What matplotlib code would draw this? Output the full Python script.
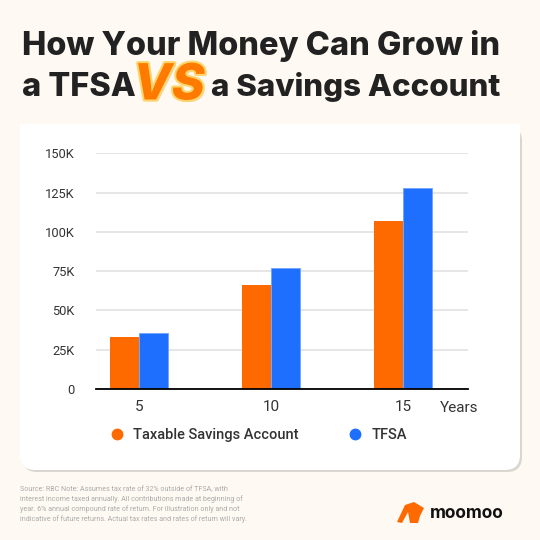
import matplotlib
matplotlib.use("Agg")
import matplotlib.pyplot as plt
import matplotlib.patheffects as pe
from matplotlib.lines import Line2D
from matplotlib.patches import FancyBboxPatch, Rectangle, Polygon
import numpy as np

# chart data (thousands of dollars)
years = ["5", "10", "15"]
taxable_savings = [33.2, 66.1, 106.6]
tfsa = [35.4, 76.7, 127.6]
y_ticks = [0, 25, 50, 75, 100, 125, 150]

series_names = ["Taxable Savings Account", "TFSA"]
ORANGE = "#FF6A00"
BLUE = "#1F6FFF"
BG = "#FEF9F2"
W, H = 540, 540


def fx(x):
    return x / W


def fy(y):
    return 1 - y / H


fig = plt.figure(figsize=(5.4, 5.4), dpi=100)
fig.patch.set_facecolor(BG)
renderer = fig.canvas.get_renderer()

# white card with shadow
shadow = FancyBboxPatch((fx(22), fy(472)), fx(500), fy(126) - fy(472),
                        boxstyle="round,pad=0,rounding_size=0.028",
                        transform=fig.transFigure, facecolor="#d9d6d0",
                        edgecolor="none", zorder=0)
card = FancyBboxPatch((fx(20), fy(470)), fx(500), fy(124) - fy(470),
                      boxstyle="round,pad=0,rounding_size=0.028",
                      transform=fig.transFigure, facecolor="white",
                      edgecolor="none", zorder=0.1)
top = Rectangle((fx(20), fy(300)), fx(500), fy(124) - fy(300),
                transform=fig.transFigure, facecolor="white",
                edgecolor="none", zorder=0.2)
fig.patches.extend([shadow, card, top])

# title
title_kw = dict(family="Inter", weight="heavy", color="#222222")
fig.text(fx(22), fy(46), "How Your Money Can Grow in", va="center", ha="left",
         fontsize=23.4, **title_kw)
fig.text(fx(22), fy(87), "a TFSA", va="center", ha="left", fontsize=23.4, **title_kw)
fig.text(fx(211), fy(87), "a Savings Account", va="center", ha="left",
         fontsize=22.6, **title_kw)
fig.text(fx(169), fy(86), "VS", va="center", ha="center", family="Inter",
         weight="heavy", style="italic", fontsize=36, color="#FF7A00",
         path_effects=[pe.SimplePatchShadow(offset=(1.5, -1.5), shadow_rgbFace="#e8dccb", alpha=1),
                       pe.withStroke(linewidth=3, foreground="#FFD66B")])

# bar chart
ax = fig.add_axes([fx(95.7), fy(389), fx(468.3 - 95.7), (389 - 153.3) / H])
ax.set_zorder(2)
ax.set_facecolor("none")
x = np.arange(len(years))
width = 0.22
ax.bar(x - width / 2, taxable_savings, width, color=ORANGE, zorder=3)
ax.bar(x + width / 2, tfsa, width, color=BLUE, edgecolor="#6fa3ff", linewidth=0.6, zorder=3)

ax.set_xlim(-0.328, 2.495)
ax.set_ylim(0, 150)
ax.set_yticks(y_ticks)
ax.set_yticklabels(["0" if v == 0 else f"{v}K" for v in y_ticks])
ax.set_xticks(x)
ax.set_xticklabels(years)
ax.grid(axis="y", color="#e2e2e2", linewidth=1.2, zorder=0)
for side in ["top", "right", "left"]:
    ax.spines[side].set_visible(False)
ax.spines["bottom"].set_color("black")
ax.spines["bottom"].set_linewidth(1.3)
ax.spines["bottom"].set_zorder(4)
ax.tick_params(axis="y", length=0, pad=15, labelsize=9.3, labelcolor="#333333")
ax.tick_params(axis="x", length=0, pad=8, labelsize=11, labelcolor="#333333")
for lab in ax.get_yticklabels() + ax.get_xticklabels():
    lab.set_family("Roboto")

fig.text(fx(459), fy(408), "Years", ha="center", va="center", fontsize=11,
         color="#333333", family="Roboto")

handles = [Line2D([], [], marker="o", linestyle="none", markersize=7.5, color=c)
           for c in [ORANGE, BLUE]]
leg = fig.legend(handles, series_names, loc="center left",
                 bbox_to_anchor=(fx(95), fy(435)), ncol=2, frameon=False,
                 handletextpad=0.5, columnspacing=3.3, handlelength=1.2,
                 prop=dict(family="Roboto", weight="medium", size=10.5),
                 labelcolor="#333333")
leg.set_zorder(3)

# footnote, sized so the longest line is ~230 px wide
note_lines = ["Source: RBC Note: Assumes tax rate of 32% outside of TFSA, with",
              "interest income taxed annually. All contributions made at beginning of",
              "year. 6% annual compound rate of return. For illustration only and not",
              "indicative of future returns. Actual tax rates and rates of return will vary."]
note_y = [490, 499.5, 509.3, 519.3]
for line, yy in zip(note_lines, note_y):
    t = fig.text(fx(20), fy(yy), line, ha="left", va="center", fontsize=6,
                 color="#ababab", family="Roboto")
    if line.startswith("indicative"):
        probe = t
w = probe.get_window_extent(renderer).width
size = 6 * 230 / w
for t in fig.texts[-4:]:
    t.set_fontsize(size)

# moomoo logo
logo = Polygon([(fx(397), fy(522)), (fx(405), fy(505)), (fx(414), fy(502)),
                (fx(424), fy(508)), (fx(420), fy(516)), (fx(418), fy(523)),
                (fx(410), fy(523)), (fx(408), fy(512)), (fx(402), fy(523))],
               closed=True, transform=fig.transFigure, facecolor="#FF6A00",
               edgecolor="none")
fig.patches.append(logo)
fig.text(fx(430), fy(514), "moomoo", ha="left", va="center", fontsize=12.5,
         weight="bold", color="#111111", family="Inter")

fig.savefig("out.png", dpi=100, facecolor=BG)
